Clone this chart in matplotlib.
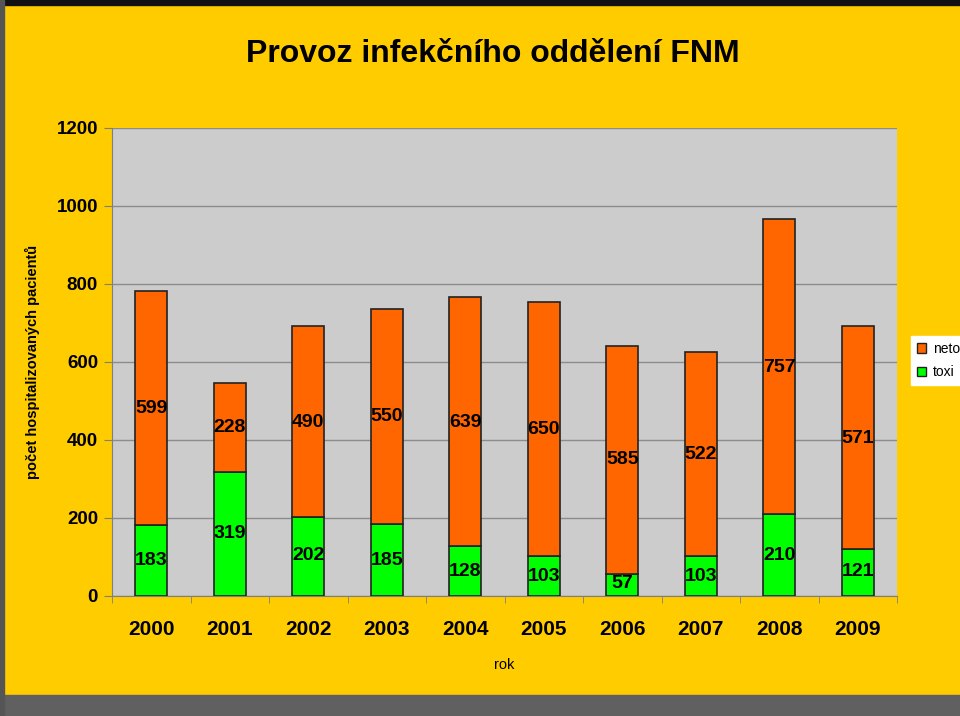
import numpy as np
import matplotlib
matplotlib.use("Agg")
import matplotlib.pyplot as plt
from matplotlib.patches import Rectangle, Patch

years = ["2000", "2001", "2002", "2003", "2004", "2005", "2006", "2007", "2008", "2009"]
toxi = [183, 319, 202, 185, 128, 103, 57, 103, 210, 121]
netox = [599, 228, 490, 550, 639, 650, 585, 522, 757, 571]

# where Excel put the value labels (in data units)
toxi_label_y = [90, 159, 103, 92, 64, 49, 31, 51, 105, 62]
netox_label_y = [482, 433, 446, 459, 446, 428, 349, 364, 587, 405]

plt.rcParams["font.family"] = ["Liberation Sans", "DejaVu Sans"]

YELLOW = "#FFCC00"
ORANGE = "#FF6600"
GREEN = "#00FF00"

fig = plt.figure(figsize=(9.6, 7.16), dpi=100, facecolor=YELLOW)

# frame decorations of the slide
fig.patches.append(Rectangle((0, 1 - 5 / 716), 1, 5 / 716, transform=fig.transFigure,
                             color="#111111", zorder=0))
fig.patches.append(Rectangle((0, 0), 1, 21 / 716, transform=fig.transFigure,
                             color="#606060", zorder=0))
fig.patches.append(Rectangle((0, 0), 4 / 960, 1, transform=fig.transFigure,
                             color="#555555", zorder=0))

ax = fig.add_axes([112 / 960, 1 - 596 / 716, 785 / 960, 468 / 716])
ax.set_facecolor("#CCCCCC")

x = np.arange(len(years))
w = 0.41
ax.bar(x, toxi, w, color=GREEN, edgecolor="#222222", linewidth=1.2, zorder=3, label="toxi")
ax.bar(x, netox, w, bottom=toxi, color=ORANGE, edgecolor="#222222", linewidth=1.2,
       zorder=3, label="netox")

for i in range(len(years)):
    ax.text(x[i], toxi_label_y[i], str(toxi[i]), ha="center", va="center",
            fontsize=14, fontweight="bold", zorder=4)
    ax.text(x[i], netox_label_y[i], str(netox[i]), ha="center", va="center",
            fontsize=14, fontweight="bold", zorder=4)

ax.set_xlim(-0.5, len(years) - 0.5)
ax.set_ylim(0, 1200)
ax.set_yticks(range(0, 1201, 200))
ax.grid(axis="y", color="#8C8C8C", linewidth=1, zorder=1)
ax.set_axisbelow(True)

for s in ["top", "right"]:
    ax.spines[s].set_visible(False)
ax.spines["left"].set_color("#7F7F7F")
ax.spines["bottom"].set_color("#7F7F7F")

ax.set_xticks(x)
ax.set_xticklabels(years, fontsize=15, fontweight="bold")
ax.set_xticks(np.arange(-0.5, len(years), 1), minor=True)
ax.tick_params(axis="x", which="major", length=0, pad=17)
ax.tick_params(axis="x", which="minor", length=5, color="#7F7F7F")
ax.tick_params(axis="y", length=6, color="#7F7F7F", labelsize=13.5, pad=4)
for t in ax.get_yticklabels():
    t.set_fontweight("bold")

ax.set_xlabel("rok", fontsize=10.5)
ax.xaxis.set_label_coords(0.5, -62 / 468)
ax.set_ylabel("počet hospitalizovaných pacientů", fontsize=10.5, fontweight="bold")
ax.yaxis.set_label_coords(-72 / 785, 0.5)

fig.text(0.513, 1 - 54 / 716, "Provoz infekčního oddělení FNM", ha="center", va="center",
         fontsize=23, fontweight="bold")

handles = [Patch(facecolor=ORANGE, edgecolor="#222222"),
           Patch(facecolor=GREEN, edgecolor="#222222")]
leg = fig.legend(handles, ["netox", "toxi"], loc="upper left",
                 bbox_to_anchor=(911 / 960, 1 - 336 / 716), borderaxespad=0, fontsize=10,
                 frameon=True, fancybox=False, handlelength=0.7, handleheight=0.7,
                 handletextpad=0.5, borderpad=0.4, labelspacing=0.7)
leg.get_frame().set_edgecolor("#FFFFFF")
leg.get_frame().set_facecolor("white")
leg.get_frame().set_alpha(1)

fig.savefig("out.png", dpi=100, facecolor=YELLOW)
